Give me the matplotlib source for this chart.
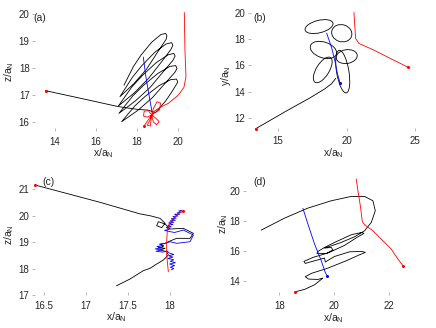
import matplotlib
matplotlib.use('Agg')
import matplotlib.pyplot as plt
from matplotlib.patches import Ellipse

plt.rcParams['font.family'] = ['Liberation Sans', 'DejaVu Sans']
plt.rcParams['mathtext.fontset'] = 'custom'
plt.rcParams['mathtext.rm'] = 'Liberation Sans'
plt.rcParams['mathtext.it'] = 'Liberation Sans:italic'

# ---------------- Panel (a) ----------------
a_approach_x = [13.54, 15.3, 17.09, 18.0, 18.55, 18.9]
a_approach_z = [17.16, 16.87, 16.57, 16.47, 16.44, 16.35]
a_helix_x = [17.37, 17.83, 18.20, 18.71, 19.17, 19.40, 19.46, 19.42, 18.99, 18.47, 17.86,
             17.17, 17.78, 18.24, 18.88, 19.42, 19.69, 19.75, 19.65, 19.19, 18.57, 17.87,
             17.09, 17.75, 18.26, 18.94, 19.52, 19.80, 19.86, 19.75, 19.28, 18.64, 17.92,
             17.12, 17.80, 18.32, 19.02, 19.61, 19.89, 19.95, 19.85, 19.38, 18.75, 18.04,
             17.25, 17.90, 18.40, 19.08, 19.65, 19.93, 19.99, 19.72, 19.40, 18.9]
a_helix_z = [17.37, 18.06, 18.48, 18.95, 19.24, 19.28, 19.20, 19.06, 18.57, 17.96, 17.43,
             16.94, 17.66, 18.09, 18.59, 18.89, 18.94, 18.84, 18.68, 18.22, 17.62, 17.08,
             16.59, 17.30, 17.72, 18.20, 18.49, 18.54, 18.44, 18.28, 17.86, 17.28, 16.78,
             16.32, 16.97, 17.36, 17.80, 18.06, 18.09, 17.98, 17.84, 17.44, 16.90, 16.43,
             16.01, 16.60, 16.95, 17.35, 17.57, 17.59, 17.48, 17.14, 16.78, 16.35]
a_red_x = [20.31, 20.34, 20.39, 20.29, 20.02, 19.53, 19.12, 18.88, 18.72,
           18.80, 18.98, 19.15, 19.10, 18.72,
           18.55, 18.35, 18.32, 18.50, 18.72,
           18.62, 18.50, 18.65, 18.72,
           18.90, 19.08, 18.95, 18.80, 18.72,
           18.34]
a_red_z = [20.05, 18.67, 17.68, 17.28, 17.00, 16.69, 16.54, 16.42, 16.26,
           16.50, 16.75, 16.70, 16.45, 16.26,
           16.42, 16.40, 16.22, 16.18, 16.26,
           16.05, 15.88, 15.85, 16.26,
           16.15, 16.02, 15.90, 16.00, 16.26,
           15.85]
a_blue_x = [18.31, 18.45, 18.63, 18.76]
a_blue_z = [18.40, 17.60, 16.81, 16.26]

# ---------------- Panel (b) ----------------
b_black_x = [13.36, 15.5, 17.3, 18.4, 18.9, 19.2]
b_black_y = [11.15, 12.45, 13.5, 14.2, 14.6, 15.0]
b_loop_cx = [17.99, 19.65, 18.31, 20.01, 18.26, 19.72]
b_loop_cy = [18.98, 18.47, 17.19, 16.68, 15.66, 15.53]
b_loop_w = [2.10, 1.50, 2.00, 1.55, 2.20, 3.30]
b_loop_h = [0.95, 1.30, 1.20, 1.05, 0.95, 0.90]
b_loop_ang = [15, -20, -20, 10, 60, -81]
b_red_x = [20.54, 20.66, 20.90, 21.99, 23.19, 24.52]
b_red_y = [20.05, 18.08, 17.69, 17.18, 16.54, 15.85]
b_blue_x = [18.55, 18.92, 19.16, 19.33, 19.53]
b_blue_y = [18.47, 17.32, 16.29, 15.40, 14.63]

# ---------------- Panel (c) ----------------
c_black_x = [16.40, 17.17, 17.65, 17.77, 17.887, 17.947, 17.907, 17.847, 17.867, 17.947,
             18.006, 18.165, 18.284, 18.244, 18.085, 17.986, 17.947, 17.887, 17.927, 17.867,
             17.947, 17.887, 17.966, 17.986, 17.927, 17.828, 17.768, 17.688, 17.530, 17.371]
c_black_z = [21.15, 20.50, 20.06, 19.99, 19.893, 19.704, 19.541, 19.616, 19.767, 19.679,
             19.490, 19.516, 19.327, 19.138, 19.138, 19.012, 18.949, 18.912, 18.824, 18.786,
             18.761, 18.698, 18.635, 18.509, 18.321, 18.132, 18.006, 17.918, 17.604, 17.352]
c_red_x = [18.165, 18.085, 18.006, 17.974, 17.966, 17.966, 17.978, 17.986]
c_red_z = [20.182, 20.019, 19.767, 19.453, 19.012, 18.509, 18.132, 17.88]
c_blue_x = [18.150, 18.110, 18.140, 18.090, 18.120, 18.060, 18.100, 18.040, 18.080, 18.020,
            18.070, 18.010, 18.050, 17.990, 18.040, 17.980, 18.020, 17.960, 18.000, 17.940,
            17.990, 18.060, 18.165, 18.284, 18.244, 18.085, 18.006, 17.950, 17.880, 17.930,
            17.850, 17.910, 17.830, 17.900, 17.840, 17.920, 17.970, 18.000, 18.050, 17.990,
            18.040, 17.980, 18.050, 18.010, 18.070, 18.000, 18.060, 18.010, 18.050, 18.020]
c_blue_z = [20.20, 20.17, 20.12, 20.10, 20.04, 20.05, 19.98, 19.96, 19.90, 19.88,
            19.82, 19.80, 19.74, 19.72, 19.66, 19.63, 19.57, 19.55, 19.48, 19.44,
            19.40, 19.36, 19.45, 19.264, 19.012, 18.949, 19.012, 18.95, 18.92, 18.87,
            18.83, 18.78, 18.74, 18.70, 18.65, 18.62, 18.66, 18.58, 18.53, 18.48,
            18.43, 18.38, 18.33, 18.27, 18.22, 18.17, 18.11, 18.05, 18.00, 17.95]

# ---------------- Panel (d) ----------------
d_black_x = [18.578, 18.918, 19.283, 19.588, 19.405, 19.064, 18.943, 19.162, 19.770, 20.439,
             20.926, 21.133, 21.011, 20.561, 20.013, 19.673, 19.648, 19.283, 18.943, 18.894,
             19.223, 19.770, 20.378, 20.865, 21.084, 21.011, 20.622, 20.013, 19.648, 19.405,
             19.369, 19.709, 19.953, 19.892, 19.648, 20.257, 20.743, 21.108, 21.352, 21.498,
             21.412, 21.108, 20.622, 19.892, 19.040, 18.189, 17.337]
d_black_z = [13.267, 13.422, 13.733, 14.178, 14.089, 14.111, 14.267, 14.489, 14.844, 15.333,
             15.733, 15.889, 15.956, 15.930, 15.620, 15.250, 15.511, 15.333, 15.156, 15.289,
             15.556, 15.850, 16.360, 16.933, 17.156, 17.222, 17.067, 16.556, 16.222, 15.956,
             15.822, 15.822, 16.044, 16.222, 16.178, 16.556, 16.933, 17.333, 17.889, 18.667,
             19.333, 19.622, 19.622, 19.333, 18.844, 18.178, 17.378]
d_red_x = [20.804, 20.865, 20.962, 21.023, 21.108, 21.412, 21.777, 22.082, 22.325, 22.507]
d_red_z = [20.778, 20.0, 18.889, 17.956, 17.733, 17.333, 16.667, 16.111, 15.444, 15.0]
d_blue_x = [18.858, 19.040, 19.283, 19.527, 19.673, 19.734]
d_blue_z = [18.822, 17.778, 16.444, 15.333, 14.556, 14.333]

# tick values
a_xticks = [14, 16, 18, 20]
a_yticks = [16, 17, 18, 19, 20]
b_xticks = [15, 20, 25]
b_yticks = [12, 14, 16, 18, 20]
c_xticks = [16.5, 17, 17.5, 18]
c_xticklabels = ['16.5', '17', '17.5', '18']
c_yticks = [17, 18, 19, 20, 21]
d_xticks = [18, 20, 22]
d_yticks = [14, 16, 18, 20]

TXT = '#262626'
LW = 0.6
MS = 2.2

fig = plt.figure(figsize=(4.36, 3.28), dpi=100)


def style(ax, xlim, ylim, xt, yt, ylab, xlc, ylc, xtl=None):
    ax.set_xlim(*xlim)
    ax.set_ylim(*ylim)
    for s in ax.spines.values():
        s.set_visible(False)
    ax.set_xticks(xt)
    if xtl is not None:
        ax.set_xticklabels(xtl)
    ax.set_yticks(yt)
    ax.tick_params(direction='in', length=2, width=0.5, color='0.6',
                   labelsize=7, labelcolor=TXT)
    ax.tick_params(axis='x', pad=4)
    ax.tick_params(axis='y', pad=2)
    ax.set_xlabel(r'x/a$_\mathrm{N}$', fontsize=7.5, color=TXT)
    ax.set_ylabel(ylab, fontsize=7.5, color=TXT)
    ax.xaxis.set_label_coords(*xlc)
    ax.yaxis.set_label_coords(*ylc)
    ax.patch.set_visible(False)


def line(ax, x, y, c):
    ax.plot(x, y, color=c, lw=LW, clip_on=False, solid_joinstyle='round')


def dot(ax, x, y, c):
    ax.plot([x], [y], 'o', color=c, ms=MS, mec='none', clip_on=False, zorder=5)


# (a)
ax = fig.add_axes([0.0744, 0.5992, 0.3761, 0.3622])
style(ax, (12.9, 20.9), (15.65, 20.05), a_xticks, a_yticks, r'z/a$_\mathrm{N}$',
      (0.43, -0.122), (-0.10, 0.503))
line(ax, a_approach_x, a_approach_z, 'black')
line(ax, a_helix_x, a_helix_z, 'black')
line(ax, a_blue_x, a_blue_z, 'blue')
line(ax, a_red_x, a_red_z, 'red')
dot(ax, a_approach_x[0], a_approach_z[0], 'red')
dot(ax, a_red_x[-1], a_red_z[-1], 'red')

# (b)
ax = fig.add_axes([0.5688, 0.6015, 0.3956, 0.362])
style(ax, (12.8, 25.4), (11.0, 20.1), b_xticks, b_yticks, r'y/a$_\mathrm{N}$',
      (0.493, -0.129), (-0.087, 0.46))
line(ax, b_black_x, b_black_y, 'black')
for cx, cy, w, h, ang in zip(b_loop_cx, b_loop_cy, b_loop_w, b_loop_h, b_loop_ang):
    ax.add_patch(Ellipse((cx, cy), w, h, angle=ang, fill=False, ec='black', lw=LW))
line(ax, b_blue_x, b_blue_y, 'blue')
line(ax, b_red_x, b_red_y, 'red')
dot(ax, b_black_x[0], b_black_y[0], 'red')
dot(ax, b_red_x[-1], b_red_y[-1], 'red')
dot(ax, b_blue_x[-1], b_blue_y[-1], 'blue')

# (c)
ax = fig.add_axes([0.0728, 0.1006, 0.3931, 0.3474])
style(ax, (16.36, 18.4), (17.0, 21.3), c_xticks, c_yticks, r'z/a$_\mathrm{N}$',
      (0.496, -0.13), (-0.092, 0.527), xtl=c_xticklabels)
line(ax, c_black_x, c_black_z, 'black')
line(ax, c_blue_x, c_blue_z, 'blue')
line(ax, c_red_x, c_red_z, 'red')
dot(ax, c_black_x[0], c_black_z[0], 'red')
dot(ax, c_red_x[0], c_red_z[0], 'red')

# (d)
ax = fig.add_axes([0.5573, 0.1006, 0.4167, 0.3567])
style(ax, (16.67, 23.3), (13.05, 20.85), d_xticks, d_yticks, r'z/a$_\mathrm{N}$',
      (0.495, -0.137), (-0.072, 0.607))
line(ax, d_black_x, d_black_z, 'black')
line(ax, d_blue_x, d_blue_z, 'blue')
line(ax, d_red_x, d_red_z, 'red')
dot(ax, d_black_x[0], d_black_z[0], 'red')
dot(ax, d_red_x[-1], d_red_z[-1], 'red')
dot(ax, d_blue_x[-1], d_blue_z[-1], 'blue')

# panel letters
for lab, (fx, fy) in zip(['(a)', '(b)', '(c)', '(d)'],
                         [(0.0917, 0.945), (0.5956, 0.945), (0.1108, 0.445), (0.5956, 0.445)]):
    fig.text(fx, fy, lab, fontsize=7.5, color=TXT, ha='center', va='center')

fig.savefig('out.png', dpi=100)
